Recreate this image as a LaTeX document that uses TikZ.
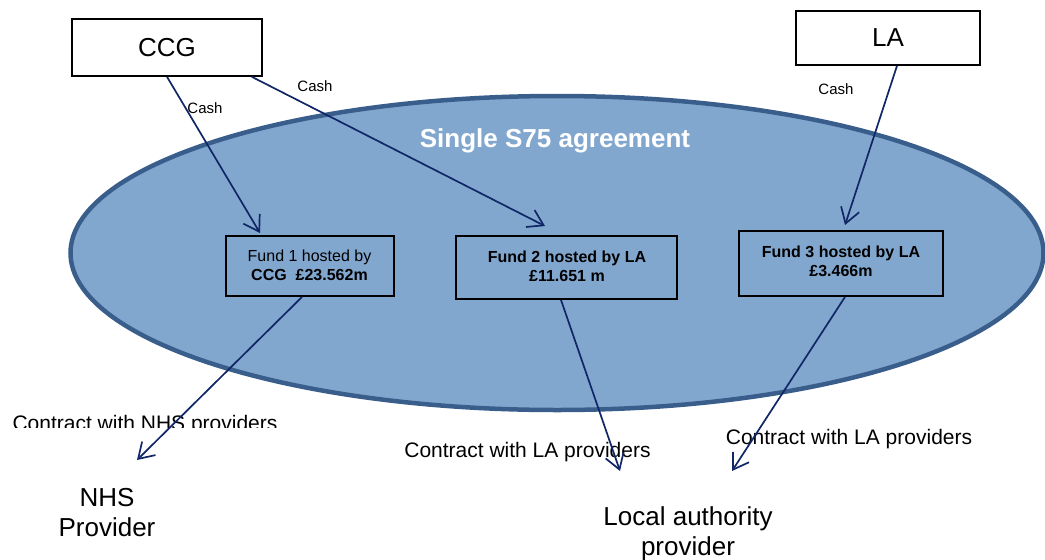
\documentclass[tikz,border=0pt]{standalone}
\usepackage{fontspec}
\setmainfont{Liberation Sans}
\usetikzlibrary{arrows.meta,shapes.geometric,calc}
\definecolor{ellfill}{RGB}{130,167,207}
\definecolor{elledge}{RGB}{58,94,140}
\definecolor{navy}{RGB}{16,38,102}
\tikzset{
  topbox/.style={draw=black, line width=1.6pt, fill=white, inner sep=0pt,
    font=\fontsize{26}{30}\selectfont},
  fundbox/.style={draw=black, line width=1.9pt, inner sep=0pt},
  fundtext/.style={font=\fontsize{16}{19}\selectfont, align=center, anchor=north, inner sep=0pt},
  cash/.style={font=\fontsize{15}{18}\selectfont, inner sep=0pt},
  contract/.style={font=\fontsize{21}{24}\selectfont, anchor=base, inner sep=0pt},
  provider/.style={font=\fontsize{26}{30}\selectfont, align=center, anchor=north, inner sep=0pt},
  flow/.style={draw=navy, line width=1.7pt,
    -{Straight Barb[length=15pt,width=19pt,line width=1.7pt]}},
}
\begin{document}
\begin{tikzpicture}[x=1pt,y=-1pt]
\useasboundingbox (0,0) rectangle (1045,560);
% agreement ellipse
\node[ellipse, draw=elledge, fill=ellfill, line width=4.5pt, inner sep=0pt,
      minimum width=973pt, minimum height=314pt] (s75) at (557,253) {};
\node[font=\bfseries\fontsize{26}{30}\selectfont, text=white, inner sep=0pt] (s75title) at (555,141) {Single S75 agreement};
% top boxes
\node[topbox, minimum width=190pt, minimum height=57pt] (ccg) at (167,47.5) {CCG};
\node[topbox, minimum width=184pt, minimum height=54pt] (la) at (888,38) {LA};
% fund boxes
\node[fundbox, minimum width=168pt, minimum height=60pt] (f1) at (310,266) {};
\node[fundbox, minimum width=221pt, minimum height=63pt] (f2) at (566.5,267.5) {};
\node[fundbox, minimum width=204pt, minimum height=65pt] (f3) at (841,263.5) {};
\node[fundtext] (t1) at (309.5,249.5) {Fund 1 hosted by\\\textbf{CCG\ \ £23.562m}};
\node[fundtext, font=\bfseries\fontsize{16}{19}\selectfont] (t2) at (567,250.5) {Fund 2 hosted by LA\\£11.651 m};
\node[fundtext, font=\bfseries\fontsize{16}{19}\selectfont] (t3) at (841,245.5) {Fund 3 hosted by LA\\£3.466m};
% cash labels
\node[cash] (c1) at (205,108) {Cash};
\node[cash] (c2) at (315,86) {Cash};
\node[cash] (c3) at (836,89) {Cash};
% contract labels
\begin{scope}
  \clip (0,400) rectangle (400,427);
  \node[contract] (k1) at (145,430) {Contract with NHS providers};
\end{scope}
\node[contract] (k2) at (527.5,457) {Contract with LA providers};
\node[contract] (k3) at (849,444) {Contract with LA providers};
% providers
\node[provider] (nhs) at (107,488.5) {NHS\\Provider};
\node[provider] (lap) at (688,506) {Local authority\\provider};
% free arrow ends
\coordinate (e1) at (137,460);
\coordinate (e2) at (620,471);
\coordinate (e3) at (732,471);
% cash flows
\draw[flow] (ccg.south) -- ([xshift=35pt,yshift=2pt]f1.north west);
\draw[flow] ([xshift=-11pt]ccg.south east) -- ([xshift=90pt,yshift=9pt]f2.north west);
\draw[flow] ([xshift=9pt]la.south) -- ([xshift=4pt,yshift=5pt]f3.north);
% contract flows
\draw[flow] ([xshift=-8pt]f1.south) -- (e1);
\draw[flow] ([xshift=-5.5pt]f2.south) -- (e2);
\draw[flow] ([xshift=4pt]f3.south) -- (e3);
\end{tikzpicture}
\end{document}
